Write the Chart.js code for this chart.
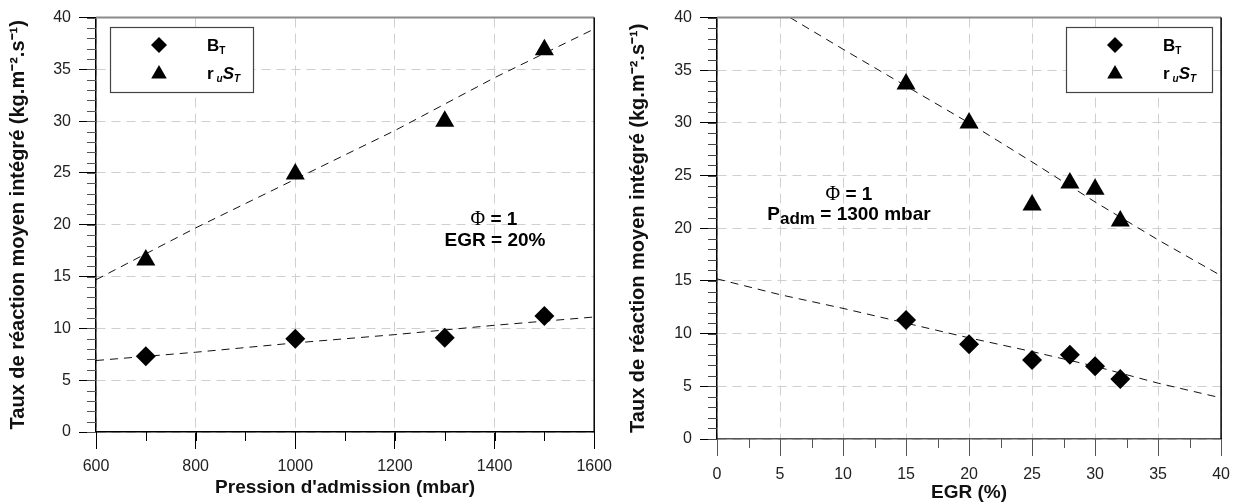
<!DOCTYPE html>
<html>
<head>
<meta charset="utf-8">
<script src="https://cdn.jsdelivr.net/npm/chart.js@4.4.0/dist/chart.umd.min.js"></script>
<style>
  body { margin: 0; background: #fff; }
  .panel { position: absolute; top: 0; height: 504px; }
</style>
</head>
<body>
<div class="panel" style="left:0;width:620px"><canvas id="chartPression" width="620" height="504"></canvas></div>
<div class="panel" style="left:620px;width:619px"><canvas id="chartEgr" width="619" height="504"></canvas></div>
<script>
// --- left panel : intake pressure ---
const pressionAdm = [700, 1000, 1300, 1500];
const bTPression = [7.3, 9.0, 9.1, 11.2];
const ruStPression = [16.6, 24.9, 30.0, 36.9];
const fitPressionX = [600, 800, 1000, 1200, 1400, 1600];
const fitBTPression = [6.9, 7.7, 8.6, 9.4, 10.3, 11.1];
const fitRuStPression = [14.7, 19.7, 24.4, 29.1, 34.2, 38.9];
const pressionTicks = [600, 800, 1000, 1200, 1400, 1600];

// --- right panel : EGR rate ---
const egr = [15, 20, 25, 28, 30, 32];
const bTEgr = [11.3, 9.0, 7.5, 8.0, 6.9, 5.7];
const ruStEgr = [33.7, 30.0, 22.2, 24.3, 23.7, 20.7];
const fitEgrUpperX = [5.8, 10, 15, 20, 25, 30, 35, 40];
const fitRuStEgr = [40, 37.0, 33.5, 30.0, 26.3, 22.5, 18.9, 15.5];
const fitEgrLowerX = [0, 5, 10, 15, 20, 25, 30, 35, 40];
const fitBTEgr = [15.2, 13.7, 12.4, 11.0, 9.6, 8.3, 6.9, 5.3, 3.9];
const egrTicks = [0, 5, 10, 15, 20, 25, 30, 35, 40];

const yTicks = [0, 5, 10, 15, 20, 25, 30, 35, 40];

const SANS = "'Liberation Sans', Arial, sans-serif";
const SERIF = "'Liberation Serif', 'Times New Roman', serif";
const yTitle = 'Taux de réaction moyen intégré (kg.m⁻².s⁻¹)';

const pts = (xs, ys) => xs.map((x, i) => ({ x: x, y: ys[i] }));

function drawRuns(ctx, runs, cx, baseline) {
    let total = 0;
    runs.forEach(r => { ctx.font = r.font; total += ctx.measureText(r.t).width + (r.gap || 0); });
    let x = cx - total / 2;
    runs.forEach(r => {
        ctx.font = r.font;
        ctx.fillText(r.t, x, baseline + (r.dy || 0));
        x += ctx.measureText(r.t).width + (r.gap || 0);
    });
}

function drawRunsLeft(ctx, runs, x, baseline) {
    runs.forEach(r => {
        ctx.font = r.font;
        ctx.fillText(r.t, x, baseline + (r.dy || 0));
        x += ctx.measureText(r.t).width + (r.gap || 0);
    });
}

const legendRuns = [
    [{ t: 'B', font: 'bold 17px ' + SANS }, { t: 'T', font: 'bold 10px ' + SANS, dy: 3 }],
    [{ t: 'r', font: 'bold 17px ' + SANS, gap: 3 }, { t: 'u', font: 'italic bold 10px ' + SANS, dy: 3 },
     { t: 'S', font: 'italic bold 17px ' + SANS }, { t: 'T', font: 'italic bold 10px ' + SANS, dy: 3 }]
];

const decorPlugin = {
    id: 'decor',
    afterDatasetsDraw(chart, args, opts) {
        const ctx = chart.ctx;
        const area = chart.chartArea;
        const xs = chart.scales.x, ys = chart.scales.y;

        // minor ticks
        ctx.save();
        ctx.lineWidth = 1;
        ctx.strokeStyle = opts.minorXColor;
        ctx.beginPath();
        for (let v = xs.min; v <= xs.max + 1e-9; v += opts.minorX) {
            const p = Math.round(xs.getPixelForValue(v)) + 0.5;
            ctx.moveTo(p, area.bottom);
            ctx.lineTo(p, area.bottom + 9);
        }
        ctx.stroke();
        ctx.strokeStyle = opts.minorYColor;
        ctx.beginPath();
        for (let v = ys.min; v <= ys.max + 1e-9; v += 1) {
            const p = Math.round(ys.getPixelForValue(v)) + 0.5;
            ctx.moveTo(area.left - 9, p);
            ctx.lineTo(area.left, p);
        }
        ctx.stroke();

        // frame top / right
        ctx.strokeStyle = '#8a8a8a';
        ctx.lineWidth = 2;
        ctx.beginPath();
        ctx.moveTo(area.left, area.top);
        ctx.lineTo(area.right, area.top);
        ctx.stroke();
        ctx.strokeStyle = '#000';
        ctx.lineWidth = 1.5;
        ctx.beginPath();
        ctx.moveTo(area.right, area.top);
        ctx.lineTo(area.right, area.bottom);
        ctx.stroke();

        // legend box
        const lg = opts.legend;
        ctx.fillStyle = '#fff';
        ctx.fillRect(lg.x, lg.y, lg.w, lg.h);
        ctx.strokeStyle = '#444';
        ctx.lineWidth = 1.2;
        ctx.strokeRect(lg.x + 0.5, lg.y + 0.5, lg.w, lg.h);
        ctx.fillStyle = '#000';
        Chart.helpers.drawPoint(ctx, { pointStyle: 'rectRot', radius: 8, rotation: 0, borderWidth: 0 }, lg.x + 49, lg.y + 18);
        Chart.helpers.drawPoint(ctx, { pointStyle: 'triangle', radius: 9, rotation: 0, borderWidth: 0 }, lg.x + 49, lg.y + 47);
        ctx.textBaseline = 'alphabetic';
        drawRunsLeft(ctx, legendRuns[0], lg.x + 97, lg.y + 24);
        drawRunsLeft(ctx, legendRuns[1], lg.x + 97, lg.y + 52);

        // annotation
        opts.notes.forEach(n => drawRuns(ctx, n.runs, n.cx, n.y));
        ctx.restore();
    }
};

function yScale(pad) {
    return {
        type: 'linear', min: 0, max: 40,
        afterBuildTicks: s => { s.ticks = yTicks.map(v => ({ value: v })); },
        ticks: { font: { family: SANS, size: 16 }, color: '#222', padding: 8, callback: v => String(v) },
        grid: { color: '#cfcfcf', tickColor: '#000', tickLength: 17 },
        border: { color: '#000', width: 1.5, dash: [9, 6] },
        title: { display: true, text: yTitle, color: '#111',
                 font: { family: SANS, size: 20, weight: 'bold' }, padding: { top: 6, bottom: 0 } },
        afterFit: s => { s.width = pad; }
    };
}

function xScale(min, max, tickList, title, axisColor, labelPad, titlePad, height) {
    return {
        type: 'linear', min: min, max: max,
        afterBuildTicks: s => { s.ticks = tickList.map(v => ({ value: v })); },
        ticks: { font: { family: SANS, size: 16 }, color: '#222', padding: labelPad, maxRotation: 0,
                 callback: v => String(v) },
        grid: { color: '#cfcfcf', tickColor: axisColor, tickLength: 17 },
        border: { color: axisColor, width: 1.5, dash: [10, 6] },
        title: { display: true, text: title, color: '#111',
                 font: { family: SANS, size: 19, weight: 'bold' }, padding: { top: 0, bottom: titlePad } },
        afterFit: s => { s.height = height; }
    };
}

function series(xs, ys, style, radius) {
    return { data: pts(xs, ys), pointStyle: style, pointRadius: radius, pointHoverRadius: radius,
             backgroundColor: '#000', borderWidth: 0, order: 1 };
}

function fitLine(xs, ys) {
    return { data: pts(xs, ys), showLine: true, borderColor: '#111', borderWidth: 1,
             borderDash: [8, 6], pointRadius: 0, fill: false, order: 2 };
}

const phiRuns = (eq) => [{ t: 'Φ', font: '20px ' + SERIF }, { t: eq, font: 'bold 19px ' + SANS }];

new Chart(document.getElementById('chartPression'), {
    type: 'scatter',
    data: {
        datasets: [
            fitLine(fitPressionX, fitRuStPression),
            fitLine(fitPressionX, fitBTPression),
            series(pressionAdm, bTPression, 'rectRot', 10),
            series(pressionAdm, ruStPression, 'triangle', 11)
        ]
    },
    options: {
        responsive: false, animation: false,
        layout: { padding: { top: 15, right: 24, left: 0, bottom: 0 } },
        plugins: {
            legend: { display: false }, tooltip: { enabled: false },
            decor: {
                minorX: 100, minorXColor: '#000', minorYColor: '#555',
                legend: { x: 110, y: 27, w: 143, h: 65 },
                notes: [
                    { cx: 494, y: 225, runs: phiRuns(' = 1') },
                    { cx: 495, y: 246, runs: [{ t: 'EGR = 20%', font: 'bold 19px ' + SANS }] }
                ]
            }
        },
        scales: {
            x: xScale(600, 1600, pressionTicks, "Pression d'admission (mbar)", '#000', 8, 5, 72),
            y: yScale(96)
        }
    },
    plugins: [decorPlugin]
});

new Chart(document.getElementById('chartEgr'), {
    type: 'scatter',
    data: {
        datasets: [
            fitLine(fitEgrUpperX, fitRuStEgr),
            fitLine(fitEgrLowerX, fitBTEgr),
            series(egr, bTEgr, 'rectRot', 10),
            series(egr, ruStEgr, 'triangle', 11)
        ]
    },
    options: {
        responsive: false, animation: false,
        layout: { padding: { top: 15, right: 15, left: 0, bottom: 0 } },
        plugins: {
            legend: { display: false }, tooltip: { enabled: false },
            decor: {
                minorX: 2.5, minorXColor: '#555', minorYColor: '#444',
                legend: { x: 446, y: 27, w: 146, h: 65 },
                notes: [
                    { cx: 229, y: 200, runs: phiRuns(' = 1') },
                    { cx: 229, y: 220, runs: [
                        { t: 'P', font: 'bold 19px ' + SANS },
                        { t: 'adm', font: 'bold 17px ' + SANS, dy: 4 },
                        { t: ' = 1300 mbar', font: 'bold 19px ' + SANS }
                    ] }
                ]
            }
        },
        scales: {
            x: xScale(0, 40, egrTicks, 'EGR (%)', '#555', 9, 0, 65),
            y: yScale(97)
        }
    },
    plugins: [decorPlugin]
});
</script>
</body>
</html>
